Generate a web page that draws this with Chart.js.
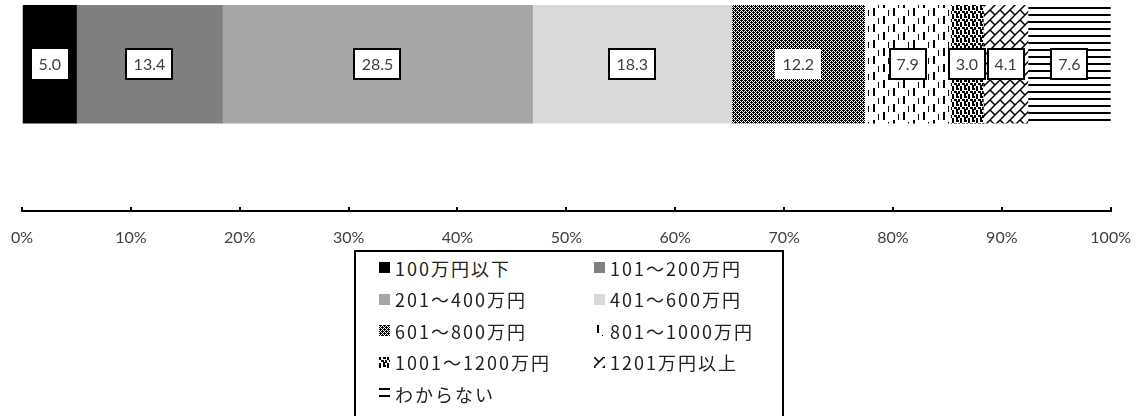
<!DOCTYPE html>
<html>
<head>
<meta charset="utf-8">
<script src="https://cdn.jsdelivr.net/npm/chart.js"></script>
<style>
  body { margin: 0; background: #fff; width: 1142px; height: 416px; overflow: hidden; position: relative; }
  #myChart { position: absolute; left: 0; top: 0; }
  #legend {
    position: absolute; left: 354px; top: 250px; width: 430px; height: 200px;
    border: 2px solid #000; box-sizing: border-box; padding: 0 0 0 23px; background: #fff;
    display: grid; grid-template-columns: 215px 180px; grid-auto-rows: 31.5px;
    font-family: "Noto Sans CJK JP", sans-serif; font-size: 18px; color: #222;
  }
  .item { display: flex; align-items: center; white-space: nowrap; letter-spacing: 2px; }
  .item canvas { margin-right: 5px; }
</style>
</head>
<body>
<canvas id="myChart" width="1142" height="269"></canvas>
<div id="legend"></div>
<script>
let categories = ['100万円以下', '101～200万円', '201～400万円', '401～600万円', '601～800万円',
                  '801～1000万円', '1001～1200万円', '1201万円以上', 'わからない'];
let shares = [5.0, 13.4, 28.5, 18.3, 12.2, 7.9, 3.0, 4.1, 7.6];
let tickLabels = ['0%', '10%', '20%', '30%', '40%', '50%', '60%', '70%', '80%', '90%', '100%'];

// labels drawn without an outline
let plainLabels = [0, 4];

// small black-and-white tiles for the patterned segments
function tile(w, h, draw) {
  let c = document.createElement('canvas');
  c.width = w; c.height = h;
  let g = c.getContext('2d');
  g.fillStyle = '#fff'; g.fillRect(0, 0, w, h);
  g.fillStyle = '#000'; g.strokeStyle = '#000';
  draw(g);
  return c;
}

let fills = [
  '#000000',
  '#7f7f7f',
  '#a6a6a6',
  '#d9d9d9',
  tile(8, 8, g => {
    for (let y = 0; y < 8; y++)
      for (let x = 0; x < 8; x++)
        if ((x + y) % 2 === 0 || (x % 4 === 1 && y % 4 === 0) || (x % 4 === 3 && y % 4 === 2))
          g.fillRect(x, y, 1, 1);
  }),
  tile(20, 16, g => {
    g.fillRect(3, 0, 2, 8); g.fillRect(13, 8, 2, 8);
    g.fillRect(8, 10, 1, 6); g.fillRect(18, 2, 1, 6);
  }),
  tile(8, 8, g => {
    g.fillRect(0, 0, 2, 3); g.fillRect(4, 0, 3, 2); g.fillRect(2, 3, 3, 2);
    g.fillRect(6, 3, 2, 3); g.fillRect(0, 6, 2, 2); g.fillRect(4, 5, 2, 3);
  }),
  tile(10, 10, g => {
    g.lineWidth = 1.5;
    g.beginPath();
    [0, 10, 20].forEach(k => { g.moveTo(k + 1, -1); g.lineTo(-1, k + 1); });
    g.moveTo(0, 0); g.lineTo(5, 5);
    g.stroke();
  }),
  tile(8, 7, g => { g.fillRect(0, 0, 8, 2); })
];

function fillFor(ctx, i) {
  let f = fills[i];
  return typeof f === 'string' ? f : ctx.createPattern(f, 'repeat');
}

let boxLabels = {
  id: 'boxLabels',
  afterDatasetsDraw(chart) {
    let ctx = chart.ctx;
    ctx.save();
    ctx.font = '16px Lato';
    ctx.textAlign = 'center';
    ctx.textBaseline = 'middle';
    chart.data.datasets.forEach((ds, i) => {
      let bar = chart.getDatasetMeta(i).data[0];
      let cx = (bar.x + bar.base) / 2, cy = bar.y;
      let text = shares[i].toFixed(1);
      let w = Math.round(ctx.measureText(text).width) + 14, h = 30;
      let x0 = Math.round(cx - w / 2), y0 = Math.round(cy - h / 2);
      ctx.fillStyle = '#fff';
      ctx.fillRect(x0, y0, w, h);
      if (!plainLabels.includes(i)) {
        ctx.lineWidth = 2;
        ctx.strokeStyle = '#000';
        ctx.strokeRect(x0, y0, w, h);
      }
      ctx.fillStyle = '#404040';
      ctx.fillText(text, cx, cy + 1);
    });
    ctx.restore();
  }
};

let myChart = document.getElementById('myChart').getContext('2d');

let chart = new Chart(myChart, {
  type: 'bar',
  data: {
    datasets: categories.map((c, i) => ({
      label: c,
      data: [{ x: shares[i], y: 0 }],
      backgroundColor: fillFor(myChart, i),
      borderWidth: 0,
      barThickness: 118
    }))
  },
  options: {
    indexAxis: 'y',
    responsive: false,
    animation: false,
    layout: { padding: 0 },
    plugins: {
      legend: { display: false },
      tooltip: { enabled: false }
    },
    scales: {
      x: {
        stacked: true,
        min: 0,
        max: 100,
        ticks: {
          stepSize: 10,
          callback: (v, i) => tickLabels[i],
          color: '#404040',
          font: { family: 'Lato', size: 16, lineHeight: 2.5 },
          padding: 11,
          maxRotation: 0
        },
        grid: { drawOnChartArea: false, drawTicks: true, tickLength: -4, color: '#000', lineWidth: 2 },
        border: { color: '#000', width: 2 }
      },
      y: { type: 'linear', stacked: true, display: false, min: -0.728, max: 0.272 }
    }
  },
  plugins: [boxLabels]
});

// legend in two columns, markers filled like the bars
let legend = document.getElementById('legend');
categories.forEach((c, i) => {
  let item = document.createElement('div');
  item.className = 'item';
  let m = document.createElement('canvas');
  m.width = 11; m.height = 11;
  let g = m.getContext('2d');
  g.fillStyle = fillFor(g, i);
  g.fillRect(0, 0, 11, 11);
  item.appendChild(m);
  item.appendChild(document.createTextNode(c));
  legend.appendChild(item);
});
</script>
</body>
</html>
